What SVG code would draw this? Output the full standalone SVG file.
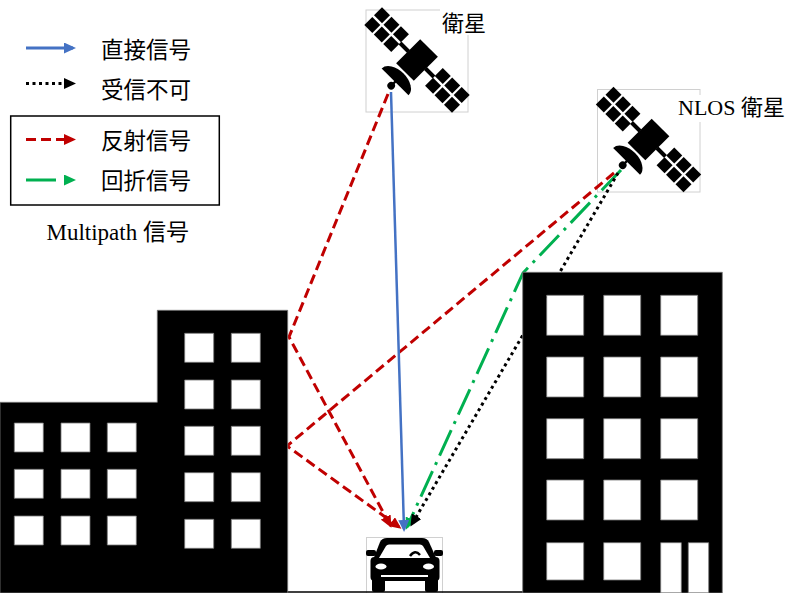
<svg xmlns="http://www.w3.org/2000/svg" width="792" height="593" viewBox="0 0 792 593">
  <style>
    .cjk { font-family: "Noto Sans CJK JP", sans-serif; font-size: 22.5px; fill: #000; }
    .lbl { font-family: "Liberation Serif", "Noto Sans CJK JP", serif; font-size: 22px; fill: #000; }
    .frame { fill: #fff; stroke: #d0d0d0; stroke-width: 1; }
    .bld { fill: #000; fill-rule: evenodd; stroke: #777; stroke-width: 0.8; }
    .direct { fill: none; stroke: #4472C4; stroke-width: 2.5; marker-end: url(#ah-blue); }
    .blocked { fill: none; stroke: #000; stroke-width: 3; stroke-dasharray: 3 3.5; marker-end: url(#ah-black); }
    .reflect { fill: none; stroke: #C00000; stroke-width: 3; stroke-dasharray: 10 5; marker-end: url(#ah-red); }
    .diffract { fill: none; stroke: #00B050; stroke-width: 3; stroke-dasharray: 28 7 3 7; marker-end: url(#ah-green); }
  </style>
  <defs>
    <marker id="ah-blue" markerUnits="userSpaceOnUse" markerWidth="12" markerHeight="11" viewBox="0 0 12 11" refX="9" refY="5.5" orient="auto">
      <path d="M0,0 L12,5.5 L0,11 Z" fill="#4472C4"/>
    </marker>
    <marker id="ah-black" markerUnits="userSpaceOnUse" markerWidth="12" markerHeight="11" viewBox="0 0 12 11" refX="9" refY="5.5" orient="auto">
      <path d="M0,0 L12,5.5 L0,11 Z" fill="#000"/>
    </marker>
    <marker id="ah-red" markerUnits="userSpaceOnUse" markerWidth="12" markerHeight="11" viewBox="0 0 12 11" refX="9" refY="5.5" orient="auto">
      <path d="M0,0 L12,5.5 L0,11 Z" fill="#C00000"/>
    </marker>
    <marker id="ah-green" markerUnits="userSpaceOnUse" markerWidth="12" markerHeight="11" viewBox="0 0 12 11" refX="9" refY="5.5" orient="auto">
      <path d="M0,0 L12,5.5 L0,11 Z" fill="#00B050"/>
    </marker>
    <!-- satellite glyph, centred on its body, axis along the diagonal -->
    <g id="sat-icon" transform="rotate(45)" fill="#000">
      <rect x="-12.5" y="-17" width="25" height="34"/>
      <rect x="-24" y="-2" width="12" height="4"/>
      <rect x="12" y="-2" width="12" height="4"/>
      <rect x="-62" y="-12.5" width="11.3" height="11.3"/>
      <rect x="-62" y="1.2" width="11.3" height="11.3"/>
      <rect x="-48.6" y="-12.5" width="11.3" height="11.3"/>
      <rect x="-48.6" y="1.2" width="11.3" height="11.3"/>
      <rect x="-35.2" y="-12.5" width="11.3" height="11.3"/>
      <rect x="-35.2" y="1.2" width="11.3" height="11.3"/>
      <rect x="23.9" y="-12.5" width="11.3" height="11.3"/>
      <rect x="23.9" y="1.2" width="11.3" height="11.3"/>
      <rect x="37.3" y="-12.5" width="11.3" height="11.3"/>
      <rect x="37.3" y="1.2" width="11.3" height="11.3"/>
      <rect x="50.7" y="-12.5" width="11.3" height="11.3"/>
      <rect x="50.7" y="1.2" width="11.3" height="11.3"/>
      <path d="M-19,31 A19,12 0 0 1 19,31 Z"/>
      <rect x="-1.2" y="30" width="2.4" height="5"/>
      <circle cx="0" cy="36.5" r="3.8"/>
    </g>
  </defs>

  <!-- legend -->
  <g id="legend">
    <path d="M26,48 H73" fill="none" stroke="#4472C4" stroke-width="3" marker-end="url(#ah-blue)"/>
    <text class="cjk" x="101" y="58">直接信号</text>
    <path d="M26,83.5 H73" class="blocked"/>
    <text class="cjk" x="101" y="98">受信不可</text>
    <rect x="10.7" y="116" width="208.6" height="89" fill="none" stroke="#000" stroke-width="1.5"/>
    <path d="M26,139.5 H73" class="reflect"/>
    <text class="cjk" x="101" y="148.5">反射信号</text>
    <path d="M26,180 H73" fill="none" stroke="#00B050" stroke-width="3" stroke-dasharray="30 8 3 8" marker-end="url(#ah-green)"/>
    <text class="cjk" x="101" y="188.5">回折信号</text>
    <text class="lbl" x="46.5" y="240" style="font-size:23px">Multipath 信号</text>
  </g>

  <!-- satellite with line of sight -->
  <g id="sat-los">
    <rect class="frame" x="366" y="10" width="102" height="102"/>
    <use href="#sat-icon" transform="translate(417,60)"/>
    <rect x="440" y="6" width="50" height="29" fill="#fff"/>
    <text class="lbl" x="442" y="31">衛星</text>
  </g>

  <!-- satellite without line of sight -->
  <g id="sat-nlos">
    <rect class="frame" x="597.5" y="89.5" width="102.5" height="102.5"/>
    <use href="#sat-icon" transform="translate(648.5,139.5)"/>
    <rect x="676" y="95" width="114" height="27" fill="#fff"/>
    <text class="lbl" x="678" y="115">NLOS 衛星</text>
  </g>

  <!-- receiver (car) -->
  <g id="car">
    <rect class="frame" x="366.5" y="537.5" width="76" height="57"/>
    <path d="M373,560 L380,542 Q382,538 387,538 L422,538 Q427,538 429,542 L437,560 Z" fill="#000"/>
    <rect x="370.5" y="557" width="69" height="24" rx="4" fill="#000"/>
    <rect x="372" y="577" width="13" height="15" rx="2" fill="#000"/>
    <rect x="425" y="577" width="13" height="15" rx="2" fill="#000"/>
    <rect x="366" y="550" width="10" height="6" rx="2" fill="#000"/>
    <rect x="434" y="550" width="9" height="6" rx="2" fill="#000"/>
    <path d="M379,558 L386,546 Q387,544.5 389,544.5 L420,544.5 Q422,544.5 423,546 L430,558 Z" fill="#fff"/>
    <path d="M410,556 Q415,549 420,555" fill="none" stroke="#000" stroke-width="2.5"/>
    <ellipse cx="381" cy="566.5" rx="5.5" ry="3" fill="#fff"/>
    <ellipse cx="428.5" cy="566.5" rx="5.5" ry="3" fill="#fff"/>
    <rect x="381" y="575" width="47" height="2" fill="#fff"/>
  </g>

  <!-- signal paths -->
  <g id="connectors">
    <path class="reflect" d="M388,94 L289,337 L390,525"/>
    <path class="reflect" d="M614,173 L287,446 L399,527"/>
    <path class="diffract" d="M621,170 L523,273 L407,527"/>
    <path class="blocked" d="M618,173 L412,524"/>
    <path class="direct" d="M391,92 L404,529"/>
  </g>

  <!-- ground line between the blocks -->
  <path d="M287,592 H523" stroke="#000" stroke-width="1.5" fill="none"/>

  <!-- left block: low wing plus tower -->
  <g id="building-left">
    <path class="bld" d="M0,402.3 H157.3 V310.3 H287.7 V593 H0 Z
      M14.3,423 h29 v29 h-29 Z M61,423 h29 v29 h-29 Z M107.3,423 h29 v29 h-29 Z
      M14.3,469.3 h29 v29 h-29 Z M61,469.3 h29 v29 h-29 Z M107.3,469.3 h29 v29 h-29 Z
      M14.3,516 h29 v29 h-29 Z M61,516 h29 v29 h-29 Z M107.3,516 h29 v29 h-29 Z
      M184.7,333.3 h29 v29 h-29 Z M231.3,333.3 h29 v29 h-29 Z
      M184.7,380 h29 v29 h-29 Z M231.3,380 h29 v29 h-29 Z
      M184.7,426.3 h29 v29 h-29 Z M231.3,426.3 h29 v29 h-29 Z
      M184.7,472.7 h29 v29 h-29 Z M231.3,472.7 h29 v29 h-29 Z
      M184.7,519.3 h29 v29 h-29 Z M231.3,519.3 h29 v29 h-29 Z"/>
  </g>

  <!-- right block -->
  <g id="building-right">
    <path class="bld" d="M522.7,272.3 H722.3 V593 H522.7 Z
      M546.7,295.3 h37 v40 h-37 Z M603.7,295.3 h37 v40 h-37 Z M660.7,295.3 h37 v40 h-37 Z
      M546.7,357 h37 v40 h-37 Z M603.7,357 h37 v40 h-37 Z M660.7,357 h37 v40 h-37 Z
      M546.7,418.7 h37 v40 h-37 Z M603.7,418.7 h37 v40 h-37 Z M660.7,418.7 h37 v40 h-37 Z
      M546.7,480 h37 v40 h-37 Z M603.7,480 h37 v40 h-37 Z M660.7,480 h37 v40 h-37 Z
      M546.7,542.7 h37 v37.3 h-37 Z M603.7,542.7 h37 v37.3 h-37 Z
      M660.7,542.7 h20.6 v50.3 h-20.6 Z M688.3,542.7 h20.4 v50.3 h-20.4 Z"/>
  </g>
</svg>
